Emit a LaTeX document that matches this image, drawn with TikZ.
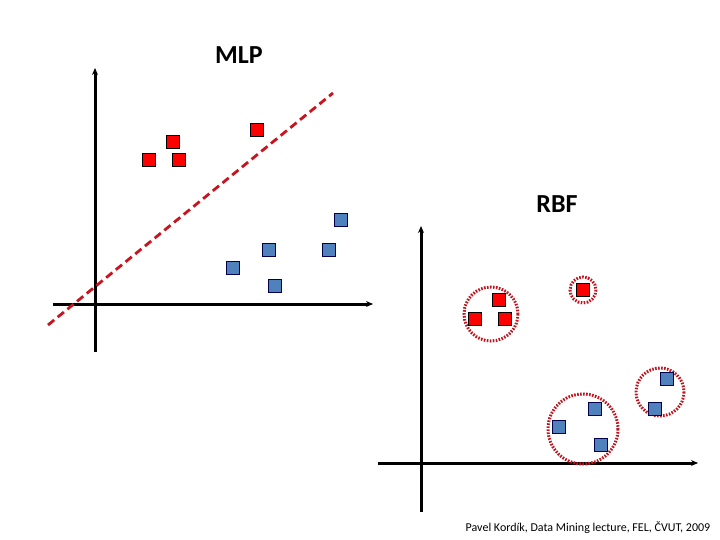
\documentclass[tikz,border=0pt]{standalone}
\usepackage{fontspec}
\setmainfont{Carlito}
\usetikzlibrary{arrows.meta}
\begin{document}
\begin{tikzpicture}[x=1pt,y=-1pt,
  axis/.style={line width=3pt,-{Stealth[length=7pt,width=6pt]}},
  rsq/.style={draw=black,fill=red,line width=1pt,minimum size=12.5pt,inner sep=0pt},
  bsq/.style={draw=black!70!blue,fill={rgb,255:red,79;green,129;blue,189},line width=1pt,minimum size=12.5pt,inner sep=0pt},
  ring/.style={draw={rgb,255:red,192;green,20;blue,30},line width=3pt,dash pattern=on 1.6pt off 1.4pt},
  sep/.style={draw={rgb,255:red,200;green,20;blue,30},line width=2.8pt,dash pattern=on 8pt off 4.5pt},
  lbl/.style={font=\bfseries\fontsize{26}{30}\selectfont}]
\useasboundingbox (0,0) rectangle (720,540);
% MLP
\coordinate (m0) at (95,352); \coordinate (m1) at (95,68);
\coordinate (m2) at (53,304); \coordinate (m3) at (373,304);
\draw[axis] (m0) -- (m1);
\draw[axis] (m2) -- (m3);
\coordinate (d0) at (48,325); \coordinate (d1) at (333,93);
\draw[sep] (d0) -- (d1);
\node[lbl] (mlp) at (239,55) {MLP};
\node[rsq] (r1) at (173,142) {};
\node[rsq] (r2) at (149,160) {};
\node[rsq] (r3) at (179,160) {};
\node[rsq] (r4) at (257,130) {};
\node[bsq] (b1) at (341,220) {};
\node[bsq] (b2) at (269,250) {};
\node[bsq] (b3) at (329,250) {};
\node[bsq] (b4) at (233,268) {};
\node[bsq] (b5) at (275,286) {};
% RBF
\coordinate (n0) at (421,512); \coordinate (n1) at (421,226);
\coordinate (n2) at (378,463); \coordinate (n3) at (698,463);
\draw[axis] (n0) -- (n1);
\draw[axis] (n2) -- (n3);
\node[lbl] (rbf) at (557,204) {RBF};
\draw[ring] (491,314) circle[radius=27];
\draw[ring] (583,290) circle[radius=13];
\draw[ring] (660,392) circle[radius=24];
\draw[ring] (583,429) circle[radius=35];
\node[rsq] (s1) at (499,300) {};
\node[rsq] (s2) at (475,319) {};
\node[rsq] (s3) at (505,319) {};
\node[rsq] (s4) at (583,290) {};
\node[bsq] (c1) at (667,379) {};
\node[bsq] (c2) at (655,409) {};
\node[bsq] (c3) at (595,409) {};
\node[bsq] (c4) at (559,427) {};
\node[bsq] (c5) at (601,445) {};
\node[font=\fontsize{12}{14}\selectfont] (foot) at (588,528) {Pavel Kordík, Data Mining lecture, FEL, ČVUT, 2009};
\end{tikzpicture}
\end{document}
